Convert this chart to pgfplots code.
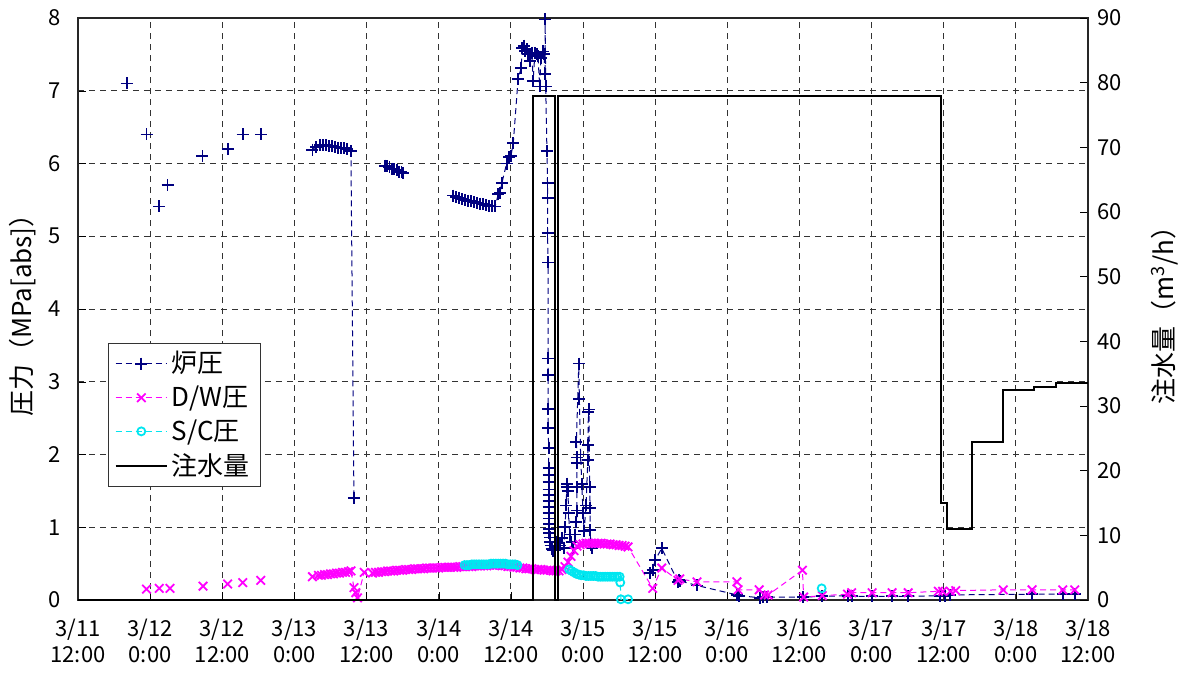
\documentclass[border=0pt]{standalone}
\usepackage{fontspec}
\setmainfont{Noto Sans CJK JP}
\usepackage{pgfplots}
\pgfplotsset{compat=1.18}
\definecolor{rnavy}{RGB}{0,0,128}
\definecolor{rmag}{RGB}{255,0,255}
\definecolor{rcyan}{RGB}{0,230,240}
\begin{document}
\begin{tikzpicture}
\begin{axis}[
  scale only axis, width=505pt, height=291pt,
  xmin=0, xmax=168, ymin=0, ymax=8,
  xtick={0,12,...,168},
  xticklabels={{3/11\\12:00},{3/12\\0:00},{3/12\\12:00},{3/13\\0:00},{3/13\\12:00},{3/14\\0:00},{3/14\\12:00},{3/15\\0:00},{3/15\\12:00},{3/16\\0:00},{3/16\\12:00},{3/17\\0:00},{3/17\\12:00},{3/18\\0:00},{3/18\\12:00}},
  ytick={0,...,8},
  tick pos=left,
  tick align=inside,
  major tick length=4pt,
  grid=major,
  major grid style={black!80, dash pattern=on 3pt off 2.5pt, line width=0.5pt},
  axis line style={black!85, line width=0.8pt},
  tick style={black},
  /pgf/number format/assume math mode=true,
  tick label style={font=\fontsize{11}{13}\selectfont},
  xticklabel style={align=center, yshift=-6pt},
  yticklabel style={xshift=-5pt},
  ylabel={圧力（MPa[abs]）},
  ylabel style={at={(axis description cs:-0.055,0.5)}, anchor=center, font=\fontsize{13}{15}\selectfont},
  unbounded coords=jump,
  legend cell align=left,
  legend style={at={(0.03,0.4416)}, anchor=north west, draw=black!80, font=\fontsize{13}{15}\selectfont, row sep=1pt, inner xsep=3pt, inner ysep=2pt},
  legend image code/.code={\draw[mark repeat=2,mark phase=2,#1] plot coordinates {(0cm,0cm) (0.45cm,0cm) (0.9cm,0cm)};},
]
% 炉圧
\addplot[rnavy, line width=0.5pt, dash pattern=on 3pt off 2pt, mark=+, mark size=3pt, mark options={solid, line width=0.9pt}] coordinates {
(8.1,7.10) (9,nan) (11.4,6.40) (12,nan) (13.5,5.41) (14,nan) (14.9,5.70) (15.5,nan) (20.7,6.10) (21,nan) (24.9,6.20) (25,nan) (27.4,6.40) (28,nan) (30.4,6.40) (31,nan)
(39.0,6.19) (39.6,6.23) (40.2,6.25) (40.8,6.25) (41.3,6.25) (41.8,6.24) (42.3,6.24) (42.8,6.23) (43.3,6.22) (43.8,6.21) (44.3,6.21) (44.8,6.20) (45.4,6.17) (45.9,1.40) (46.5,nan)
(51.1,5.97) (51.4,5.96) (51.8,5.95) (52.2,5.93) (52.6,5.92) (53.0,5.91) (53.4,5.89) (53.8,5.88) (54.1,5.87) (55,nan)
(62.4,5.56) (62.9,5.54) (63.4,5.53) (63.9,5.51) (64.4,5.50) (64.9,5.49) (65.4,5.48) (65.9,5.47) (66.4,5.46) (66.9,5.45) (67.4,5.44) (67.9,5.43) (68.4,5.42) (68.9,5.41) (69.4,5.41)
(69.9,5.58) (70.2,5.60) (70.5,5.73) (71.3,6.00) (71.7,6.09) (72.0,6.10) (72.4,6.28) (73.2,7.16) (73.7,7.31) (73.9,7.59) (74.2,7.62) (74.4,7.55) (74.7,7.57) (74.9,7.50) (75.2,7.41) (75.5,7.52) (75.7,7.13) (76.0,7.52) (76.3,7.50) (76.5,7.48) (76.8,7.06) (77.0,7.45) (77.3,7.54) (77.5,7.50) (77.7,7.23) (77.7,7.98) (77.8,7.06)
(78.0,6.17) (78.1,5.73) (78.1,5.53) (78.1,5.05) (78.2,4.64) (78.2,3.32) (78.2,3.09) (78.2,2.63) (78.2,2.36) (78.3,2.09)
(78.3,1.82) (78.3,1.72) (78.3,1.62) (78.3,1.52) (78.3,1.44) (78.3,1.36) (78.3,1.28) (78.3,1.20) (78.4,1.12) (78.4,1.05) (78.4,0.98) (78.4,0.92) (78.5,0.86) (78.5,0.80) (78.6,0.75) (78.8,0.70) (79.0,0.68) (79.3,0.72) (79.6,0.80) (79.9,0.70) (80.2,0.75) (80.5,0.85) (80.8,0.72)
(81.0,1.00) (81.2,1.30) (81.3,1.55) (81.4,1.60) (81.5,1.50) (81.6,1.20) (81.8,0.90) (82.1,0.80) (82.4,0.72) (82.7,0.90) (82.9,1.07) (83.0,1.23) (83.0,1.55) (83.0,1.88) (83.0,1.96) (82.9,2.17) (83.3,3.25) (83.4,2.76) (83.6,2.00) (83.8,1.60) (84.0,1.20) (84.2,0.95) (84.5,1.30) (84.8,1.92) (84.8,2.13) (84.9,2.58) (85.0,2.62) (85.1,1.55) (85.2,1.26) (85.2,0.96) (85.3,0.75) (85.5,0.72) (86,nan)
(95.1,0.37) (95.6,0.41) (96.0,0.55) (97.1,0.71) (99.8,0.25) (100.0,0.28) (100.2,0.26) (102.96,0.20) (109.6,0.07) (110.0,0.06) (113.5,0.03) (113.9,0.04) (114.6,0.04) (120.6,0.04) (123.8,0.05) (128.1,0.06) (128.7,0.05) (132.1,0.05) (135.4,0.05) (138.1,0.05) (143.4,0.06) (144.2,0.06) (145.1,0.07) (158.7,0.08) (163.8,0.08) (165.8,0.08)
};
\addlegendentry{炉圧}
% D/W圧
\addplot[rmag, line width=0.5pt, dash pattern=on 3pt off 2pt, mark=x, mark size=3pt, mark options={solid, line width=0.9pt}] coordinates {
(11.4,0.15) (12,nan) (13.5,0.16) (14,nan) (15.3,0.16) (16,nan) (20.8,0.19) (21,nan) (24.9,0.22) (25,nan) (27.4,0.24) (28,nan) (30.4,0.27) (31,nan)
(39.0,0.32) (40.0,0.34) (40.5,0.34) (41.0,0.35) (41.5,0.35) (42.0,0.36) (42.5,0.36) (43.0,0.37) (43.5,0.37) (44.0,0.38) (44.5,0.38) (45.0,0.39) (45.4,0.40) (45.9,0.17) (46.2,0.10) (46.5,0.03) (47.6,0.38)
(49.0,0.37) (49.5,0.38) (50.0,0.38) (50.5,0.39) (51.0,0.39) (51.5,0.40) (52.0,0.40) (52.5,0.40) (53.0,0.41) (53.5,0.41) (54.0,0.41) (54.5,0.42) (55.0,0.42) (55.5,0.42) (56.0,0.43) (56.5,0.43) (57.0,0.43) (57.5,0.43) (58.0,0.44) (58.5,0.44) (59.0,0.44) (59.5,0.44) (60.0,0.44) (60.5,0.45) (61.0,0.45) (61.5,0.45) (62.0,0.45) (62.5,0.45) (63.0,0.45) (63.5,0.46) (64.0,0.46) (64.5,0.46) (65.0,0.46) (65.5,0.46) (66.0,0.47) (66.5,0.47) (67.0,0.47) (67.5,0.47) (68.0,0.47) (68.5,0.48) (69.0,0.48) (69.5,0.48) (70.0,0.48)
(70.5,0.47) (71.0,0.47) (71.5,0.46) (72.0,0.46) (72.5,0.45) (73.0,0.45) (73.5,0.44) (74.0,0.44) (74.5,0.43) (75.0,0.43) (75.5,0.43) (76.0,0.42) (76.5,0.42) (77.0,0.42) (77.5,0.41) (78.0,0.41) (78.5,0.41) (79.0,0.40) (79.5,0.40) (80.0,0.40) (80.5,0.42) (81.0,0.46) (81.5,0.52) (82.0,0.60) (82.5,0.68) (83.0,0.74) (83.5,0.76) (84.0,0.77) (84.5,0.78) (85.0,0.78) (85.5,0.78) (86.0,0.78) (86.5,0.78) (87.0,0.78) (87.5,0.77) (88.0,0.77) (88.5,0.77) (89.0,0.76) (89.5,0.76) (90.0,0.75) (90.5,0.75) (91.0,0.74) (91.5,0.73)
(95.6,0.16) (97.1,0.44) (99.8,0.27) (100.1,0.29) (102.96,0.25) (109.6,0.25) (109.8,0.14) (113.3,0.14) (114.2,0.07) (114.8,0.07) (120.5,0.41) (120.7,0.04) (123.8,0.06) (128.0,0.08) (128.7,0.10) (132.1,0.10) (135.4,0.10) (138.1,0.10) (143.1,0.12) (143.8,0.12) (145.1,0.12) (146.0,0.13) (153.9,0.14) (158.7,0.14) (163.8,0.14) (165.8,0.14)
};
\addlegendentry{D/W圧}
% S/C圧
\addplot[rcyan, line width=0.5pt, dash pattern=on 3pt off 2pt, mark=o, mark size=2pt, mark options={solid, line width=0.9pt}] coordinates {
(64.3,0.48) (64.7,0.48) (65.1,0.48) (65.5,0.49) (65.9,0.49) (66.3,0.49) (66.7,0.49) (67.1,0.49) (67.5,0.49) (67.9,0.49) (68.3,0.49) (68.7,0.50) (69.1,0.50) (69.5,0.50) (69.9,0.50) (70.3,0.50) (70.7,0.50) (71.1,0.50) (71.5,0.49) (71.9,0.49) (72.3,0.49) (72.7,0.49) (73.1,0.48) (74,nan)
(81.7,0.42) (82.1,0.40) (82.5,0.38) (82.9,0.36) (83.3,0.35) (83.7,0.34) (84.1,0.34) (84.5,0.33) (84.9,0.33) (85.3,0.33) (85.7,0.33) (86.1,0.33) (86.5,0.32) (86.9,0.32) (87.3,0.32) (87.7,0.32) (88.1,0.32) (88.5,0.32) (88.9,0.32) (89.3,0.32) (89.7,0.32) (90.1,0.32) (90.2,0.24) (90.3,0.01) (91.5,0.01) (92,nan)
(123.7,0.16)
};
\addlegendentry{S/C圧}
\addlegendimage{black, line width=1pt}
\addlegendentry{注水量}
\end{axis}
\begin{axis}[
  scale only axis, width=505pt, height=291pt,
  xmin=0, xmax=168, ymin=0, ymax=90,
  axis x line=none, axis y line*=right,
  ytick={0,10,...,90},
  tick align=inside, major tick length=4pt,
  axis line style={black!85, line width=0.8pt},
  tick style={black},
  /pgf/number format/assume math mode=true,
  tick label style={font=\fontsize{11}{13}\selectfont},
  yticklabel style={xshift=1pt},
  ylabel={注水量（m\textsuperscript{3}/h）},
  ylabel style={at={(axis description cs:1.076,0.5)}, anchor=center, font=\fontsize{13}{15}\selectfont},
]
\addplot[black, line width=1pt] coordinates {
(0,0) (75.7,0) (75.7,78) (79.3,78) (79.3,0) (79.8,0) (79.8,78) (143.6,78) (143.6,15) (144.5,15) (144.5,11) (148.7,11) (148.7,24.5) (153.9,24.5) (153.9,32.5) (159,32.5) (159,33) (162.7,33) (162.7,33.5) (168,33.5)
};
\end{axis}
\pgfresetboundingbox
\path[use as bounding box] (-39pt,-38.5pt) rectangle (553pt,300pt);
\end{tikzpicture}
\end{document}
